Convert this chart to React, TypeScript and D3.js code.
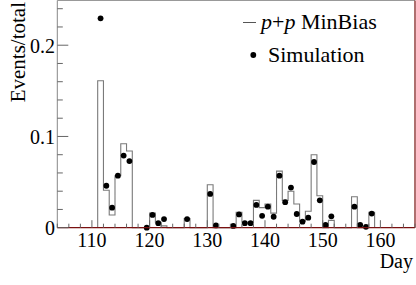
import React from "react";
import * as d3 from "d3";

// p+p MinBias histogram, one value per day bin [day, day+1)
const histDays = [
  111, 112, 113, 114, 115, 116, 117, 118, 119, 120, 121, 122, 123, 124, 125, 126,
  127, 128, 129, 130, 131, 132, 133, 134, 135, 136, 137, 138, 139, 140, 141, 142,
  143, 144, 145, 146, 147, 148, 149, 150, 151, 152, 153, 154, 155, 156, 157, 158,
];
const histValues = [
  0.161, 0.041, 0.014, 0.057, 0.092, 0.084, 0, 0, 0, 0.016, 0.006, 0.002, 0, 0, 0, 0.01,
  0, 0, 0, 0.047, 0, 0, 0, 0, 0.017, 0.006, 0.006, 0.030, 0.022, 0.026, 0.016, 0.062,
  0.030, 0.040, 0.026, 0.007, 0.018, 0.080, 0.035, 0, 0.008, 0, 0, 0, 0.034, 0, 0, 0.017,
];

// Simulation points (bin start day, value)
const simDays = [
  111, 112, 113, 114, 115, 116, 119, 120, 121, 122, 126, 130, 131, 134, 135, 136, 137,
  138, 139, 140, 141, 142, 143, 144, 145, 146, 147, 148, 149, 150, 151, 155, 156, 157, 158,
];
const simValues = [
  0.2295, 0.046, 0.022, 0.057, 0.079, 0.073, 0, 0.014, 0.005, 0.0095, 0.0095, 0.037, 0.0025,
  0.002, 0.0145, 0.005, 0.005, 0.025, 0.013, 0.023, 0.012, 0.057, 0.028, 0.044, 0.015,
  0.0066, 0.011, 0.072, 0.030, 0.003, 0.0125, 0.023, 0.003, 0.001, 0.0155,
];

const xMajor = [110, 120, 130, 140, 150, 160];
const yMajor = [0, 0.1, 0.2];

const W = 416;
const H = 285;
const left = 57.3;
const right = 415;
const top = 0.5;
const bottom = 227.7;
const font = "'Liberation Serif', 'Times New Roman', serif";

export default function App() {
  const x = d3.scaleLinear().domain([104, 166]).range([left, right]);
  const y = d3.scaleLinear().domain([0, 0.249]).range([bottom, top]);

  // step outline of the histogram
  const pts: [number, number][] = [[x(histDays[0]), y(0)]];
  histDays.forEach((d, i) => {
    pts.push([x(d), y(histValues[i])]);
    pts.push([x(d + 1), y(histValues[i])]);
  });
  pts.push([x(histDays[histDays.length - 1] + 1), y(0)]);
  const histPath = d3.line()(pts) || "";

  const xMinor = d3.range(104, 167, 2).filter((v) => v % 10 !== 0);
  const yMinor = d3.range(0, 0.25, 0.02).filter((v) => Math.abs(v * 10 - Math.round(v * 10)) > 1e-6);

  return (
    <div style={{ position: "fixed", left: 0, top: 0 }}>
      <svg width={W} height={H} style={{ display: "block", background: "#fff" }}>
        <path d={histPath} fill="none" stroke="#7a7a7a" strokeWidth={1.1} />

        {simDays.map((d, i) => (
          <circle key={d} cx={x(d + 0.5)} cy={y(simValues[i])} r={2.9} fill="#000" />
        ))}

        {/* frame */}
        <line x1={left} x2={right} y1={top} y2={top} stroke="#999" strokeWidth={1} />
        <line x1={left} x2={left} y1={top} y2={bottom} stroke="#888" strokeWidth={1} />
        <line x1={right} x2={right} y1={top} y2={bottom} stroke="#7a1010" strokeWidth={1.2} />
        <line x1={left} x2={right} y1={bottom} y2={bottom} stroke="#7a1010" strokeWidth={1.2} />

        {/* x ticks */}
        {xMinor.map((v) => (
          <line key={"xm" + v} x1={x(v)} x2={x(v)} y1={bottom} y2={bottom - 4} stroke="#666" />
        ))}
        {xMajor.map((v) => (
          <g key={"xM" + v}>
            <line x1={x(v)} x2={x(v)} y1={bottom} y2={bottom - 7.5} stroke="#666" />
            <text x={x(v)} y={246.5} textAnchor="middle" fontFamily={font} fontSize={20}>
              {v}
            </text>
          </g>
        ))}

        {/* y ticks */}
        {yMinor.map((v) => (
          <line key={"ym" + v} x1={left} x2={left + 5.5} y1={y(v)} y2={y(v)} stroke="#666" />
        ))}
        {yMajor.map((v) => (
          <g key={"yM" + v}>
            <line x1={left} x2={left + 11} y1={y(v)} y2={y(v)} stroke="#666" />
            <text x={55} y={y(v) + 7.5} textAnchor="end" fontFamily={font} fontSize={20}>
              {v === 0 ? "0" : d3.format(".1f")(v)}
            </text>
          </g>
        ))}

        {/* axis titles */}
        <text
          transform="translate(25,2) rotate(-90)"
          textAnchor="end"
          fontFamily={font}
          fontSize={21}
        >
          Events/total
        </text>
        <text x={413} y={268} textAnchor="end" fontFamily={font} fontSize={20}>
          Day
        </text>

        {/* legend */}
        <line x1={243} x2={256} y1={22.5} y2={22.5} stroke="#555" strokeWidth={1} />
        <text x={261} y={28.5} fontFamily={font} fontSize={22}>
          <tspan fontStyle="italic">p</tspan>
          <tspan>+</tspan>
          <tspan fontStyle="italic">p</tspan>
          <tspan> MinBias</tspan>
        </text>
        <circle cx={253.3} cy={55} r={2.9} fill="#000" />
        <text x={268} y={62} fontFamily={font} fontSize={22}>
          Simulation
        </text>
      </svg>
    </div>
  );
}
